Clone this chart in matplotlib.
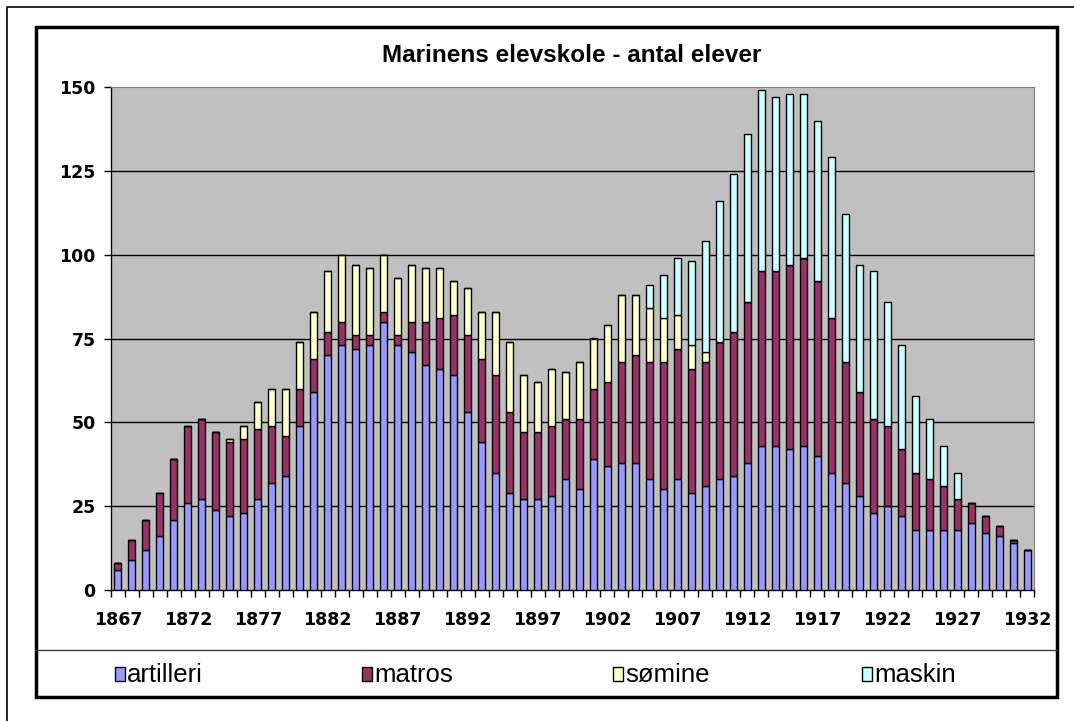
import numpy as np
import matplotlib
matplotlib.use("Agg")
import matplotlib.pyplot as plt
from matplotlib.patches import Rectangle
from matplotlib.lines import Line2D

years = list(range(1867, 1933))

artilleri = [6, 9, 12, 16, 21, 26, 27, 24, 22, 23,
             27, 32, 34, 49, 59, 70, 73, 72, 73, 80,
             73, 71, 67, 66, 64, 53, 44, 35, 29, 27,
             27, 28, 33, 30, 39, 37, 38, 38, 33, 30,
             33, 29, 31, 33, 34, 38, 43, 43, 42, 43,
             40, 35, 32, 28, 23, 25, 22, 18, 18, 18,
             18, 20, 17, 16, 14, 12]
matros = [2, 6, 9, 13, 18, 23, 24, 23, 22, 22,
          21, 17, 12, 11, 10, 7, 7, 4, 3, 3,
          3, 9, 13, 15, 18, 23, 25, 29, 24, 20,
          20, 21, 18, 21, 21, 25, 30, 32, 35, 38,
          39, 37, 37, 41, 43, 48, 52, 52, 55, 56,
          52, 46, 36, 31, 28, 24, 20, 17, 15, 13,
          9, 6, 5, 3, 1, 0]
somine = [0, 0, 0, 0, 0, 0, 0, 0, 1, 4,
          8, 11, 14, 14, 14, 18, 20, 21, 20, 17,
          17, 17, 16, 15, 10, 14, 14, 19, 21, 17,
          15, 17, 14, 17, 15, 17, 20, 18, 16, 13,
          10, 7, 3, 0, 0, 0, 0, 0, 0, 0,
          0, 0, 0, 0, 0, 0, 0, 0, 0, 0,
          0, 0, 0, 0, 0, 0]
maskin = [0, 0, 0, 0, 0, 0, 0, 0, 0, 0,
          0, 0, 0, 0, 0, 0, 0, 0, 0, 0,
          0, 0, 0, 0, 0, 0, 0, 0, 0, 0,
          0, 0, 0, 0, 0, 0, 0, 0, 7, 13,
          17, 25, 33, 42, 47, 50, 54, 52, 51, 49,
          48, 48, 44, 38, 44, 37, 31, 23, 18, 12,
          8, 0, 0, 0, 0, 0]

series = ["artilleri", "matros", "sømine", "maskin"]
colors = ["#9999ff", "#993366", "#ffffcc", "#ccffff"]
title = "Marinens elevskole - antal elever"
yticks = [0, 25, 50, 75, 100, 125, 150]

W, H = 1074, 721
fig = plt.figure(figsize=(W / 100, H / 100), dpi=100)
fig.patch.set_facecolor("white")


def fx(px):
    return px / W


def fy(py):
    return 1 - py / H


# plot area in pixels: x 111..1034, y 87..590
ax = fig.add_axes([fx(111), fy(590), fx(1034) - fx(111), fy(87) - fy(590)])
ax.set_facecolor("#c0c0c0")

x = np.arange(len(years))
data = [artilleri, matros, somine, maskin]
bottom = np.zeros(len(years))
for vals, c, name in zip(data, colors, series):
    vals = np.array(vals, dtype=float)
    ax.bar(x, vals, width=0.5, bottom=bottom, color=c, edgecolor="black",
           linewidth=1, label=name, zorder=3)
    bottom += vals

# gridlines behind bars
for yv in yticks[1:-1]:
    ax.axhline(yv, color="black", linewidth=1, zorder=1)

ax.set_xlim(-0.5, len(years) - 0.5)
ax.set_ylim(0, 150)
ax.set_yticks(yticks)

lab_idx = list(range(0, len(years), 5))
ax.set_xticks(lab_idx)
ax.set_xticklabels([str(years[i]) for i in lab_idx])
ax.set_xticks(np.arange(-0.5, len(years), 1), minor=True)
ax.tick_params(axis="x", which="major", length=0, pad=15)
ax.tick_params(axis="x", which="minor", length=5, width=1, direction="out")
ax.tick_params(axis="y", length=5, width=1, direction="out", pad=6)
for lbl in ax.get_xticklabels() + ax.get_yticklabels():
    lbl.set_fontfamily("DejaVu Sans")
    lbl.set_fontweight("bold")
    lbl.set_fontsize(12.5)

for s in ["top", "right"]:
    ax.spines[s].set_color("#808080")
for s in ["left", "bottom"]:
    ax.spines[s].set_color("black")
    ax.spines[s].set_linewidth(1)

# title
fig.text(fx(572), fy(55), title, ha="center", va="center",
         fontfamily="Liberation Sans", fontweight="bold", fontsize=17.5)

# chart frame, legend line, outer border
fig.patches.append(Rectangle((fx(36), fy(697)), fx(1057) - fx(36), fy(27) - fy(697),
                             transform=fig.transFigure, fill=False,
                             edgecolor="black", linewidth=2.5))
fig.lines.append(Line2D([fx(36), fx(1057)], [fy(650), fy(650)],
                        transform=fig.transFigure, color="#404040", linewidth=1))
fig.lines.append(Line2D([fx(7), fx(7), fx(1074)], [fy(721), fy(7), fy(7)],
                        transform=fig.transFigure, color="black", linewidth=1.2))

# legend entries
leg_x = [115, 362, 613, 862]
for lx, c, name in zip(leg_x, colors, series):
    fig.patches.append(Rectangle((fx(lx), fy(681)), fx(10), 14 / H,
                                 transform=fig.transFigure, facecolor=c,
                                 edgecolor="black", linewidth=1))
    fig.text(fx(lx + 12), fy(675), name, ha="left", va="center",
             fontfamily="Liberation Sans", fontsize=18.5)

fig.savefig("out.png", dpi=100)
